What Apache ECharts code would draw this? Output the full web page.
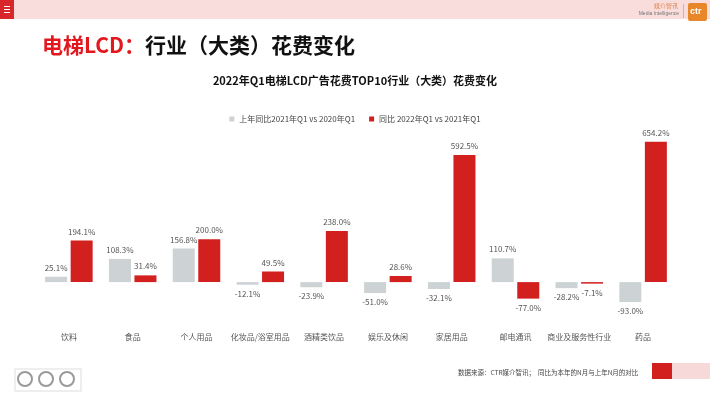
<!DOCTYPE html>
<html>
<head>
<meta charset="utf-8">
<script src="https://cdn.jsdelivr.net/npm/echarts@6/dist/echarts.min.js"></script>
<style>
  html, body { margin: 0; padding: 0; background: #fff; }
  #chart { width: 710px; height: 399px; }
</style>
</head>
<body>
<div id="chart"></div>
<script>
var categories = ['饮料', '食品', '个人用品', '化妆品/浴室用品', '酒精类饮品', '娱乐及休闲', '家居用品', '邮电通讯', '商业及服务性行业', '药品'];
var lastYear = [25.1, 108.3, 156.8, -12.1, -23.9, -51.0, -32.1, 110.7, -28.2, -93.0];
var thisYear = [194.1, 31.4, 200.0, 49.5, 238.0, 28.6, 592.5, -77.0, -7.1, 654.2];
var seriesNames = ['上年同比2021年Q1 vs 2020年Q1', '同比 2022年Q1 vs 2021年Q1'];

var FONT = '"Noto Sans CJK SC", "Liberation Sans", sans-serif';

var chart = echarts.init(document.getElementById('chart'));

function barLabel() {
    return {
        show: true,
        position: 'outside',
        fontSize: 8,
        color: '#555',
        fontFamily: FONT,
        formatter: function (p) { return p.value.toFixed(1) + '%'; }
    };
}

var option = {
    backgroundColor: '#fff',
    animation: false,
    textStyle: { fontFamily: FONT },
    title: {
        text: '2022年Q1电梯LCD广告花费TOP10行业（大类）花费变化',
        left: 'center',
        top: 70,
        textStyle: { fontSize: 11, fontWeight: 'bold', color: '#111', fontFamily: FONT }
    },
    legend: {
        top: 110,
        left: 'center',
        itemWidth: 5,
        itemHeight: 5,
        itemGap: 14,
        icon: 'rect',
        textStyle: { fontSize: 8, color: '#444', fontFamily: FONT },
        data: seriesNames
    },
    grid: { left: 37, right: 35, top: 132, bottom: 74 },
    xAxis: {
        type: 'category',
        data: categories,
        axisLine: { show: false },
        axisTick: { show: false },
        axisLabel: { fontSize: 8, color: '#555', margin: 8, interval: 0 }
    },
    yAxis: {
        type: 'value',
        min: -200,
        max: 700,
        show: false,
        splitLine: { show: false }
    },
    series: [
        {
            name: seriesNames[0],
            type: 'bar',
            data: lastYear,
            barWidth: 22,
            barGap: '16%',
            itemStyle: { color: '#cdd2d5' },
            label: barLabel()
        },
        {
            name: seriesNames[1],
            type: 'bar',
            data: thisYear,
            barWidth: 22,
            itemStyle: { color: '#d2201f' },
            label: barLabel()
        }
    ],
    graphic: [
        // top banner
        { type: 'rect', shape: { x: 0, y: 0, width: 710, height: 19 }, style: { fill: '#f9dcdc' } },
        { type: 'rect', shape: { x: 0, y: 0, width: 14, height: 19 }, style: { fill: '#d9262b' } },
        { type: 'rect', shape: { x: 4, y: 6, width: 6, height: 1 }, style: { fill: '#fff' } },
        { type: 'rect', shape: { x: 4, y: 9, width: 6, height: 1 }, style: { fill: '#fff' } },
        { type: 'rect', shape: { x: 4, y: 12, width: 6, height: 1 }, style: { fill: '#fff' } },
        { type: 'text', right: 32, top: 3, style: { text: '媒介智讯', fontSize: 6, fill: '#e08040', fontFamily: FONT } },
        { type: 'text', right: 31, top: 11, style: { text: 'Media Intelligence', fontSize: 5, fill: '#777', fontFamily: '"Liberation Sans", sans-serif' } },
        { type: 'rect', shape: { x: 683, y: 4, width: 1, height: 14 }, style: { fill: '#bbb' } },
        { type: 'rect', shape: { x: 688, y: 3, width: 19, height: 18, r: 2 }, style: { fill: '#e8862a' } },
        { type: 'text', x: 690, y: 7, style: { text: 'ctr', fontSize: 9, fontWeight: 'bold', fill: '#fff', fontFamily: '"Liberation Sans", sans-serif' } },
        // heading
        {
            type: 'text', left: 42, top: 35,
            style: {
                text: '{r|电梯LCD：}{k|行业（大类）花费变化}',
                rich: {
                    r: { fontSize: 21, fontWeight: 'bold', fill: '#e3171e', fontFamily: FONT },
                    k: { fontSize: 21, fontWeight: 'bold', fill: '#111', fontFamily: FONT }
                }
            }
        },
        // footer
        { type: 'text', left: 458, top: 369, style: { text: '数据来源：CTR媒介智讯；  同比为本年的N月与上年N月的对比', fontSize: 6.5, fill: '#444', fontFamily: FONT } },
        { type: 'rect', shape: { x: 652, y: 363, width: 20, height: 16 }, style: { fill: '#d2201f' } },
        { type: 'rect', shape: { x: 672, y: 363, width: 38, height: 16 }, style: { fill: '#f7d9d9' } },
        // bottom-left marks
        { type: 'rect', shape: { x: 15, y: 369, width: 66, height: 22 }, style: { fill: 'none', stroke: '#ddd', lineWidth: 1 } },
        { type: 'circle', shape: { cx: 25, cy: 379, r: 7 }, style: { fill: 'none', stroke: '#999', lineWidth: 2 } },
        { type: 'circle', shape: { cx: 46, cy: 379, r: 7 }, style: { fill: 'none', stroke: '#999', lineWidth: 2 } },
        { type: 'circle', shape: { cx: 67, cy: 379, r: 7 }, style: { fill: 'none', stroke: '#999', lineWidth: 2 } }
    ]
};

chart.setOption(option);
</script>
</body>
</html>
